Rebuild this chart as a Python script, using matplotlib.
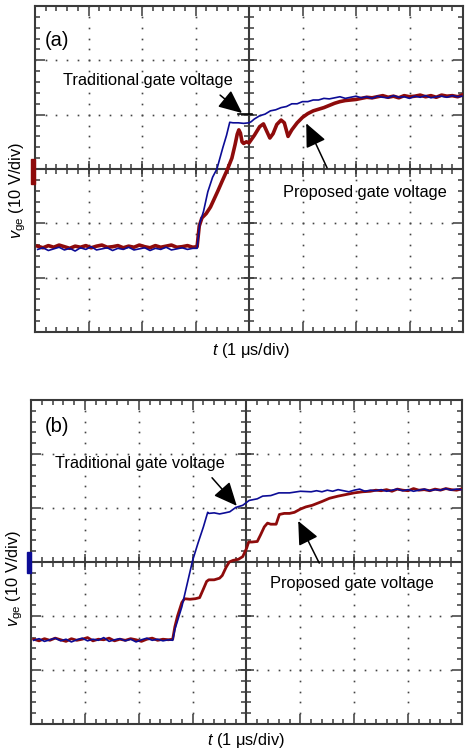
import numpy as np
import matplotlib
matplotlib.use("Agg")
import matplotlib.pyplot as plt
from matplotlib.ticker import MultipleLocator
from matplotlib.patches import Rectangle
import matplotlib.transforms as mtransforms

plt.rcParams['font.family'] = ['Liberation Sans', 'DejaVu Sans']
plt.rcParams['mathtext.fontset'] = 'custom'
plt.rcParams['mathtext.rm'] = 'Liberation Sans'
plt.rcParams['mathtext.it'] = 'Liberation Sans:italic'

# ---------------- data (time in div, voltage in div) ----------------
BASE_A_T = [-3.95, -3.85, -3.75, -3.65, -3.55, -3.45, -3.35, -3.25, -3.15, -3.05,
            -2.95, -2.85, -2.75, -2.65, -2.55, -2.45, -2.35, -2.25, -2.15, -2.05,
            -1.95, -1.85, -1.75, -1.65, -1.55, -1.45, -1.35, -1.25, -1.15, -1.05]

A_BLUE_T = BASE_A_T + [
    -0.97, -0.92, -0.85, -0.77, -0.68, -0.60, -0.49, -0.42, -0.36,
    -0.30, -0.20, -0.10, 0.00, 0.04,
    0.10, 0.20, 0.30, 0.40, 0.50, 0.60, 0.70, 0.80, 0.90, 1.00, 1.10, 1.20, 1.30, 1.40, 1.50,
    1.60, 1.70, 1.80, 1.90, 2.00, 2.10, 2.20, 2.30, 2.40, 2.50, 2.60, 2.70, 2.80, 2.90,
    3.00, 3.10, 3.20, 3.30, 3.40, 3.50, 3.60, 3.70, 3.80, 3.90, 3.98]
A_BLUE_V = [
    -1.48, -1.45, -1.50, -1.47, -1.44, -1.49, -1.46, -1.51, -1.45, -1.48,
    -1.43, -1.49, -1.47, -1.45, -1.50, -1.46, -1.48, -1.44, -1.49, -1.47,
    -1.45, -1.50, -1.46, -1.48, -1.44, -1.49, -1.47, -1.45, -1.48, -1.46,
    -1.46, -1.00, -0.78, -0.42, -0.15, 0.00, 0.39, 0.62, 0.86,
    0.85, 0.85, 0.84, 0.85, 0.87,
    0.92, 0.98, 1.01, 1.07, 1.09, 1.13, 1.15, 1.20, 1.20, 1.24, 1.24, 1.27, 1.27, 1.30, 1.29,
    1.31, 1.33, 1.30, 1.32, 1.34, 1.31, 1.33, 1.30, 1.34, 1.32, 1.31, 1.35, 1.32, 1.33,
    1.30, 1.34, 1.32, 1.35, 1.31, 1.33, 1.34, 1.32, 1.35, 1.33, 1.34]

A_RED_T = BASE_A_T + [
    -0.97, -0.93, -0.88, -0.80, -0.72, -0.65, -0.58, -0.50, -0.40, -0.32,
    -0.26, -0.22, -0.19, -0.16, -0.13, -0.10, -0.05, 0.00, 0.05, 0.10,
    0.15, 0.20, 0.27, 0.32, 0.39, 0.45, 0.52, 0.60, 0.66, 0.73,
    0.80, 0.90, 1.00, 1.10, 1.20, 1.30, 1.40, 1.50, 1.60, 1.70, 1.80, 1.90, 2.00,
    2.10, 2.20, 2.30, 2.40, 2.50, 2.60, 2.70, 2.80, 2.90, 3.00,
    3.10, 3.20, 3.30, 3.40, 3.50, 3.60, 3.70, 3.80, 3.90, 3.98]
A_RED_V = [
    -1.42, -1.45, -1.41, -1.44, -1.40, -1.43, -1.46, -1.42, -1.44, -1.41,
    -1.45, -1.42, -1.40, -1.44, -1.43, -1.41, -1.45, -1.42, -1.44, -1.40,
    -1.43, -1.45, -1.41, -1.44, -1.42, -1.40, -1.44, -1.43, -1.41, -1.44,
    -1.43, -1.05, -0.90, -0.82, -0.70, -0.55, -0.40, -0.22, 0.00, 0.20,
    0.45, 0.64, 0.72, 0.66, 0.50, 0.47, 0.50, 0.48, 0.55, 0.62,
    0.70, 0.78, 0.83, 0.72, 0.57, 0.65, 0.82, 0.90, 0.85, 0.60,
    0.72, 0.85, 0.95, 1.02, 1.07, 1.10, 1.13, 1.17, 1.21, 1.24, 1.26, 1.27, 1.28,
    1.30, 1.32, 1.31, 1.33, 1.35, 1.32, 1.34, 1.31, 1.35, 1.33,
    1.34, 1.36, 1.33, 1.35, 1.32, 1.36, 1.34, 1.35, 1.33, 1.36]

BASE_B_T = [-3.95, -3.85, -3.75, -3.65, -3.55, -3.45, -3.35, -3.25, -3.15, -3.05,
            -2.95, -2.85, -2.75, -2.65, -2.55, -2.45, -2.35, -2.25, -2.15, -2.05,
            -1.95, -1.85, -1.75, -1.65, -1.55, -1.45]

B_BLUE_T = BASE_B_T + [
    -1.37, -1.33, -1.20, -1.10, -1.00, -0.90, -0.80, -0.72, -0.70, -0.60,
    -0.50, -0.40, -0.31, -0.20, -0.07, 0.05, 0.20, 0.30, 0.45, 0.60, 0.80, 1.00, 1.20,
    1.30, 1.40, 1.50, 1.60, 1.70, 1.80, 1.90, 2.00, 2.10, 2.20, 2.30, 2.40, 2.50, 2.60,
    2.70, 2.80, 2.90, 3.00, 3.10, 3.20, 3.30, 3.40, 3.50, 3.60, 3.70, 3.80, 3.90, 3.98]
B_BLUE_V = [
    -1.45, -1.42, -1.47, -1.44, -1.41, -1.46, -1.43, -1.48, -1.44, -1.41,
    -1.46, -1.43, -1.45, -1.40, -1.47, -1.44, -1.42, -1.46, -1.43, -1.48,
    -1.44, -1.41, -1.45, -1.43, -1.46, -1.44,
    -1.45, -1.25, -0.83, -0.40, 0.03, 0.35, 0.65, 0.92, 0.90, 0.91,
    0.89, 0.91, 0.93, 1.01, 1.05, 1.14, 1.17, 1.22, 1.23, 1.28, 1.28, 1.31, 1.30,
    1.32, 1.30, 1.33, 1.31, 1.34, 1.32, 1.30, 1.33, 1.35, 1.31, 1.33, 1.32, 1.34, 1.31,
    1.33, 1.35, 1.32, 1.34, 1.31, 1.33, 1.35, 1.32, 1.34, 1.33, 1.36, 1.33, 1.35, 1.34]

B_RED_T = BASE_B_T + [
    -1.37, -1.33, -1.28, -1.20, -1.15, -1.05, -0.95, -0.87, -0.80, -0.74,
    -0.70, -0.60, -0.50, -0.45, -0.38, -0.32, -0.25, -0.15, -0.07, 0.00,
    0.04, 0.10, 0.20, 0.26, 0.33, 0.39, 0.45, 0.55, 0.61, 0.70,
    0.80, 0.89, 1.00, 1.10, 1.22, 1.40, 1.54, 1.70, 1.85, 2.00, 2.15,
    2.30, 2.40, 2.50, 2.60, 2.70, 2.80, 2.90, 3.00, 3.10, 3.20, 3.30, 3.40,
    3.50, 3.60, 3.70, 3.80, 3.90, 3.98]
B_RED_V = [
    -1.43, -1.46, -1.42, -1.45, -1.41, -1.44, -1.47, -1.42, -1.45, -1.43,
    -1.40, -1.46, -1.43, -1.44, -1.41, -1.46, -1.43, -1.45, -1.42, -1.44,
    -1.47, -1.43, -1.41, -1.45, -1.43, -1.44,
    -1.43, -1.20, -1.00, -0.75, -0.68, -0.69, -0.68, -0.66, -0.50, -0.36,
    -0.33, -0.33, -0.30, -0.25, -0.10, 0.00, 0.03, 0.05, 0.10, 0.25,
    0.37, 0.37, 0.38, 0.50, 0.65, 0.72, 0.70, 0.70, 0.88, 0.90,
    0.90, 0.92, 0.98, 1.02, 1.05, 1.12, 1.18, 1.22, 1.25, 1.28, 1.30,
    1.31, 1.33, 1.32, 1.34, 1.31, 1.35, 1.33, 1.32, 1.36, 1.33, 1.34, 1.32,
    1.35, 1.33, 1.36, 1.34, 1.33, 1.35]

BLUE = '#0c0c96'
RED = '#8e0b0b'
FRAME = '#3a3a3a'

W, H = 467, 751
fig = plt.figure(figsize=(W / 100, H / 100), dpi=100)


def graticule(ax):
    ax.set_xlim(-4, 4)
    ax.set_ylim(-3, 3)
    for s in ax.spines.values():
        s.set_color(FRAME)
        s.set_linewidth(1.5)
    ax.xaxis.set_major_locator(MultipleLocator(1))
    ax.xaxis.set_minor_locator(MultipleLocator(0.2))
    ax.yaxis.set_major_locator(MultipleLocator(1))
    ax.yaxis.set_minor_locator(MultipleLocator(0.2))
    ax.tick_params(which='both', direction='in', top=True, right=True,
                   labelbottom=False, labelleft=False, color=FRAME, width=1.1)
    ax.tick_params(which='major', length=7)
    ax.tick_params(which='minor', length=3.6)
    # dotted division lines
    minor = np.round(np.arange(-4, 4.001, 0.2), 2)
    minor_y = np.round(np.arange(-3, 3.001, 0.2), 2)
    for gx in [-3, -2, -1, 1, 2, 3]:
        ax.plot(np.full(minor_y.size, gx), minor_y, ls='none', marker='s',
                ms=1.2, mew=0, color='#444444', zorder=1)
    for gy in [-2, -1, 1, 2]:
        ax.plot(minor, np.full(minor.size, gy), ls='none', marker='s',
                ms=1.2, mew=0, color='#444444', zorder=1)
    # centre crosshair with ticks
    ax.axhline(0, color=FRAME, lw=1.5, zorder=2)
    ax.axvline(0, color=FRAME, lw=1.5, zorder=2)
    ax.plot(minor, np.zeros(minor.size), ls='none', marker='|', ms=7,
            mew=1.1, color=FRAME, zorder=2)
    ax.plot(np.zeros(minor_y.size), minor_y, ls='none', marker='_', ms=7,
            mew=1.1, color=FRAME, zorder=2)
    major = np.arange(-3, 4)
    majory = np.arange(-2, 3)
    ax.plot(major, np.zeros(major.size), ls='none', marker='|', ms=11,
            mew=1.1, color=FRAME, zorder=2)
    ax.plot(np.zeros(majory.size), majory, ls='none', marker='_', ms=11,
            mew=1.1, color=FRAME, zorder=2)


def ground_marker(ax, y0, y1, color):
    trans = mtransforms.blended_transform_factory(ax.transAxes, ax.transData)
    ax.add_patch(Rectangle((-0.009, y0), 0.008, y1 - y0, transform=trans,
                           color=color, clip_on=False, zorder=5))


ARROW = dict(arrowstyle='-|>,head_length=0.8,head_width=0.36',
             mutation_scale=18, lw=1.1, color='black', shrinkA=0, shrinkB=0)
FS = 11.8

# ---------------- panel (a) ----------------
axa = fig.add_axes([35 / W, 1 - 332 / H, 428 / W, 326 / H])
graticule(axa)
axa.plot(A_RED_T, A_RED_V, color=RED, lw=2.6, zorder=3)
axa.plot(A_BLUE_T, A_BLUE_V, color=BLUE, lw=1.2, zorder=4)
ground_marker(axa, -0.27, 0.18, RED)
axa.plot([-0.2, 0.06], [1.01, 1.01], color='black', lw=1.2, zorder=5)
axa.text(-3.81, 2.37, '(a)', fontsize=14.5, ha='left', va='center')
axa.text(-3.48, 1.63, 'Traditional gate voltage', fontsize=FS,
         ha='left', va='center')
axa.annotate('', xy=(-0.13, 1.03), xytext=(-0.54, 1.36), arrowprops=ARROW)
axa.text(0.64, -0.44, 'Proposed gate voltage', fontsize=FS,
         ha='left', va='center')
axa.annotate('', xy=(1.07, 0.84), xytext=(1.46, 0.02), arrowprops=ARROW)

fig.text(18 / W, 1 - 190 / H, r'$v_{\mathrm{ge}}$ (10 V/div)', fontsize=FS,
         rotation=90, ha='center', va='center')
fig.text(251 / W, 1 - 350 / H, r'$t$ (1 μs/div)', fontsize=FS,
         ha='center', va='center')

# ---------------- panel (b) ----------------
axb = fig.add_axes([31 / W, 1 - 724 / H, 431 / W, 324 / H])
graticule(axb)
axb.plot(B_RED_T, B_RED_V, color=RED, lw=2.0, zorder=3)
axb.plot(B_BLUE_T, B_BLUE_V, color=BLUE, lw=1.2, zorder=4)
ground_marker(axb, -0.2, 0.19, BLUE)
axb.text(-3.74, 2.5, '(b)', fontsize=14.5, ha='left', va='center')
axb.text(-3.55, 1.83, 'Traditional gate voltage', fontsize=FS,
         ha='left', va='center')
axb.annotate('', xy=(-0.18, 1.04), xytext=(-0.64, 1.56), arrowprops=ARROW)
axb.text(0.44, -0.39, 'Proposed gate voltage', fontsize=FS,
         ha='left', va='center')
axb.annotate('', xy=(0.96, 0.76), xytext=(1.35, -0.02), arrowprops=ARROW)

fig.text(15 / W, 1 - 578 / H, r'$v_{\mathrm{ge}}$ (10 V/div)', fontsize=FS,
         rotation=90, ha='center', va='center')
fig.text(246 / W, 1 - 740 / H, r'$t$ (1 μs/div)', fontsize=FS,
         ha='center', va='center')

fig.savefig('out.png', dpi=100)
